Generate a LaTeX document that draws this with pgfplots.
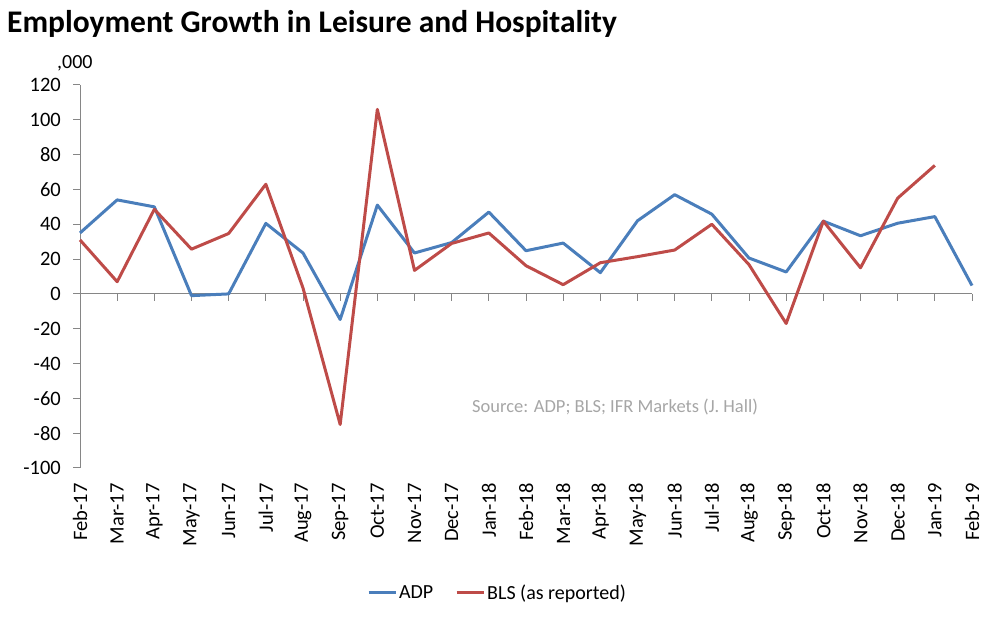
\documentclass[border=0pt]{standalone}
\usepackage{pgfplots}
\pgfplotsset{compat=1.18}
\usepackage{fontspec}
\setmainfont{Carlito}
\definecolor{adp}{RGB}{74,126,187}
\definecolor{bls}{RGB}{190,75,72}
\definecolor{axgray}{RGB}{134,134,134}
\definecolor{srcgray}{RGB}{166,166,166}
\begin{document}
\begin{tikzpicture}[x=1pt,y=1pt]
\path[use as bounding box] (0,0) rectangle (995,620);
\node[anchor=base west, font=\fontsize{31.5}{36}\selectfont\bfseries, inner sep=0pt] at (7,587) {Employment Growth in Leisure and Hospitality};
\node[anchor=base west, font=\fontsize{20}{24}\selectfont, inner sep=0pt] at (57,551) {,000};
\begin{axis}[
  at={(80pt,152pt)}, anchor=south west,
  scale only axis, width=892pt, height=383pt,
  xmin=0, xmax=24, ymin=-100, ymax=120,
  clip=false,
  axis lines=left,
  axis line style={-, draw=axgray, line width=1pt},
  x axis line style={draw=none},
  ytick={-100,-80,...,120},
  yticklabels={},
  xtick={0,...,24},
  xticklabels={Feb-17,Mar-17,Apr-17,May-17,Jun-17,Jul-17,Aug-17,Sep-17,Oct-17,Nov-17,Dec-17,Jan-18,Feb-18,Mar-18,Apr-18,May-18,Jun-18,Jul-18,Aug-18,Sep-18,Oct-18,Nov-18,Dec-18,Jan-19,Feb-19},
  xtick style={draw=none},
  ytick style={draw=none},
  tick label style={font=\fontsize{20.5}{24}\selectfont},
  xticklabel style={yshift=-13pt, rotate=90, anchor=east, inner sep=0pt},
  legend style={at={(0.468,-0.326)}, anchor=center, draw=none, fill=none,
    legend columns=2, font=\fontsize{20}{24}\selectfont,
    /tikz/every even column/.append style={column sep=20pt}},
  legend image code/.code={\draw[#1] (0pt,0pt) -- (27pt,0pt);},
]
\draw[axgray, line width=1pt] (axis cs:0,0) -- (axis cs:24,0);
\pgfplotsinvokeforeach{0,...,24}{\draw[axgray, line width=1pt] (axis cs:#1,0) -- ([yshift=-7pt]axis cs:#1,0);}
\pgfplotsinvokeforeach{-100,-80,...,120}{\draw[axgray, line width=1pt] (axis cs:0,#1) -- ([xshift=-7pt]axis cs:0,#1);
  \node[anchor=east, inner sep=0pt, font=\fontsize{20.5}{24}\selectfont] at ([xshift=-19pt]axis cs:0,#1) {#1};}
\addplot[adp, line width=3pt, line join=round] coordinates {
(0,35) (1,54) (2,50) (3,-1) (4,0) (5,40.5) (6,23.5) (7,-14.7) (8,51) (9,23.5)
(10,29.5) (11,47) (12,24.8) (13,29.2) (14,12.2) (15,42) (16,57) (17,45.8)
(18,20.6) (19,12.6) (20,41.8) (21,33.4) (22,40.6) (23,44.4) (24,4.8)};
\addlegendentry{ADP}
\addplot[bls, line width=3pt, line join=round] coordinates {
(0,31) (1,7) (2,48.6) (3,25.7) (4,34.7) (5,63) (6,3.4) (7,-75) (8,106) (9,13.5)
(10,29) (11,35) (12,16.2) (13,5.3) (14,17.9) (15,21.4) (16,25.2) (17,40)
(18,16.8) (19,-17) (20,41.8) (21,15) (22,55) (23,73.8)};
\addlegendentry{BLS (as reported)}
\end{axis}
\node[anchor=base west, font=\fontsize{18.5}{22}\selectfont, text=srcgray, inner sep=0pt] at (472,207) {Source: ADP; BLS; IFR Markets (J. Hall)};
\end{tikzpicture}
\end{document}
